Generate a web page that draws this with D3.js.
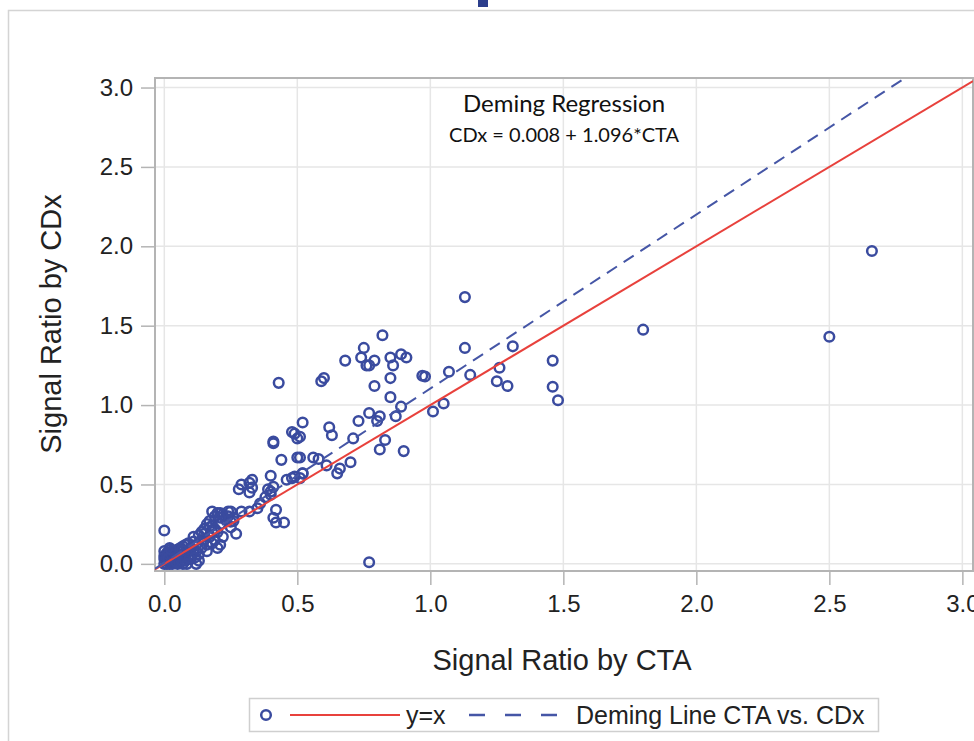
<!DOCTYPE html>
<html>
<head>
<meta charset="utf-8">
<script src="https://cdn.jsdelivr.net/npm/d3@7"></script>
<style>
  body { margin: 0; background: #fff; }
  svg { display: block; }
</style>
</head>
<body>
<svg width="974" height="741"></svg>
<script>
// CTA vs CDx signal ratios
const ctaValues = [
  0.00, 0.01, 0.00, 0.01, 0.02, 0.02, 0.03, 0.03, 0.04, 0.04, 0.05, 0.05, 0.06, 0.00, 0.02, 0.01,
  0.03, 0.06, 0.07, 0.00, 0.02, 0.05, 0.08, 0.08, 0.09, 0.10, 0.07, 0.10, 0.11, 0.12, 0.13, 0.11,
  0.09, 0.14, 0.15, 0.13, 0.14, 0.16, 0.15, 0.17, 0.16, 0.18, 0.17, 0.19, 0.18, 0.20, 0.19, 0.21,
  0.20, 0.22, 0.23, 0.22, 0.24, 0.25, 0.26, 0.21, 0.13, 0.07, 0.16, 0.18, 0.04, 0.06, 0.01, 0.03,
  0.00, 0.12, 0.20, 0.27, 0.25, 0.25, 0.26, 0.18, 0.21, 0.24, 0.29, 0.32, 0.28, 0.32, 0.35, 0.29,
  0.33, 0.32, 0.33, 0.36, 0.39, 0.40, 0.38, 0.42, 0.41, 0.42, 0.45, 0.40, 0.41, 0.40, 0.46, 0.48,
  0.49, 0.51, 0.52, 0.48, 0.49, 0.50, 0.41, 0.41, 0.44, 0.50, 0.43, 0.52, 0.51, 0.51, 0.52, 0.56,
  0.58, 0.61, 0.59, 0.60, 0.62, 0.63, 0.65, 0.66, 0.70, 0.71, 0.73, 0.77, 0.80, 0.81, 0.83, 0.87,
  0.89, 0.90, 0.81, 0.79, 0.85, 0.85, 0.68, 0.74, 0.75, 0.76, 0.77, 0.79, 0.82, 0.85, 0.86, 0.89,
  0.91, 0.97, 0.98, 1.01, 1.05, 1.07, 1.13, 1.13, 1.15, 1.25, 1.26, 1.29, 1.31, 1.46, 1.46, 1.48,
  1.80, 2.50, 2.66, 0.77,
  0.01, 0.02, 0.04, 0.05, 0.06, 0.08, 0.09, 0.11, 0.12, 0.14, 0.15, 0.17, 0.19, 0.21, 0.03, 0.10,
  0.015, 0.035, 0.055, 0.075, 0.095, 0.045, 0.065, 0.085, 0.025, 0.115
];
const cdxValues = [
  0.00, 0.02, 0.05, 0.07, 0.01, 0.04, 0.00, 0.06, 0.02, 0.08, 0.03, 0.00, 0.05, 0.03, 0.07, 0.00,
  0.03, 0.01, 0.04, 0.08, 0.10, 0.09, 0.07, 0.02, 0.05, 0.10, 0.11, 0.03, 0.08, 0.12, 0.06, 0.14,
  0.13, 0.10, 0.15, 0.18, 0.20, 0.12, 0.22, 0.17, 0.25, 0.20, 0.27, 0.30, 0.24, 0.32, 0.15, 0.25,
  0.20, 0.31, 0.28, 0.17, 0.30, 0.33, 0.27, 0.12, 0.02, 0.00, 0.08, 0.13, 0.05, 0.09, 0.04, 0.01,
  0.21, 0.00, 0.10, 0.19, 0.265, 0.23, 0.29, 0.33, 0.32, 0.33, 0.33, 0.33, 0.47, 0.45, 0.35, 0.50,
  0.53, 0.51, 0.48, 0.38, 0.47, 0.435, 0.42, 0.34, 0.29, 0.26, 0.26, 0.555, 0.485, 0.455, 0.53, 0.54,
  0.55, 0.54, 0.57, 0.83, 0.82, 0.79, 0.76, 0.77, 0.655, 0.67, 1.14, 0.89, 0.80, 0.67, 0.57, 0.67,
  0.66, 0.62, 1.15, 1.17, 0.86, 0.81, 0.57, 0.60, 0.64, 0.79, 0.90, 0.95, 0.90, 0.93, 0.78, 0.93,
  0.99, 0.71, 0.72, 1.12, 1.17, 1.05, 1.28, 1.30, 1.36, 1.25, 1.25, 1.28, 1.44, 1.30, 1.25, 1.32,
  1.30, 1.185, 1.18, 0.96, 1.01, 1.21, 1.68, 1.36, 1.19, 1.15, 1.235, 1.12, 1.37, 1.28, 1.115, 1.03,
  1.475, 1.43, 1.97, 0.01,
  0.05, 0.00, 0.06, 0.06, 0.10, 0.12, 0.09, 0.17, 0.08, 0.15, 0.19, 0.23, 0.22, 0.29, 0.08, 0.06,
  0.035, 0.015, 0.075, 0.025, 0.035, 0.01, 0.085, 0.00, 0.09, 0.04
];
const tickValues = [0, 0.5, 1, 1.5, 2, 2.5, 3];
const demingIntercept = 0.008;
const demingSlope = 1.096;
const legendLabels = ["y=x", "Deming Line CTA vs. CDx"];

const points = ctaValues.map((v, i) => ({ cta: v, cdx: cdxValues[i] }));

const blue = "#3a4b9f";
const red = "#e8413c";
const gridColor = "#e6e6e6";
const frameColor = "#b4b4b4";
const sans = "'Liberation Sans', Arial, sans-serif";

const svg = d3.select("svg");

// outer graph border and clipped title fragment
svg.append("rect")
  .attr("x", 8.5).attr("y", 10.5).attr("width", 980).attr("height", 760)
  .attr("fill", "none").attr("stroke", "#d4d4d4").attr("stroke-width", 1.5);
svg.append("rect")
  .attr("x", 478).attr("y", 0).attr("width", 10).attr("height", 7)
  .attr("fill", "#2c3e8c");

const x = d3.scaleLinear().domain([-0.035, 3.04]).range([155, 973]);
const y = d3.scaleLinear().domain([-0.045, 3.06]).range([571, 78]);

const plotLeft = x.range()[0], plotRight = x.range()[1];
const plotTop = y.range()[1], plotBottom = y.range()[0];

// grid
svg.append("g").selectAll("line").data(tickValues).enter().append("line")
  .attr("x1", d => x(d)).attr("x2", d => x(d))
  .attr("y1", plotTop).attr("y2", plotBottom)
  .attr("stroke", gridColor).attr("stroke-width", 1.5);
svg.append("g").selectAll("line").data(tickValues).enter().append("line")
  .attr("x1", plotLeft).attr("x2", plotRight)
  .attr("y1", d => y(d)).attr("y2", d => y(d))
  .attr("stroke", gridColor).attr("stroke-width", 1.5);

// axes
const xAxis = svg.append("g")
  .attr("transform", "translate(0," + plotBottom + ")")
  .call(d3.axisBottom(x).tickValues(tickValues).tickFormat(d3.format(".1f")).tickSizeInner(14).tickSizeOuter(0).tickPadding(10));
const yAxis = svg.append("g")
  .attr("transform", "translate(" + plotLeft + ",0)")
  .call(d3.axisLeft(y).tickValues(tickValues).tickFormat(d3.format(".1f")).tickSizeInner(14).tickSizeOuter(0).tickPadding(8));

[xAxis, yAxis].forEach(g => {
  g.select(".domain").remove();
  g.selectAll("line").attr("stroke", frameColor).attr("stroke-width", 1.5);
  g.selectAll("text")
    .attr("fill", "#222")
    .style("font-family", sans)
    .style("font-size", "24px");
});

// plot frame
svg.append("rect")
  .attr("x", plotLeft).attr("y", plotTop)
  .attr("width", plotRight - plotLeft).attr("height", plotBottom - plotTop)
  .attr("fill", "none").attr("stroke", frameColor).attr("stroke-width", 2);

svg.append("clipPath").attr("id", "plotclip")
  .append("rect")
  .attr("x", plotLeft).attr("y", plotTop)
  .attr("width", plotRight - plotLeft).attr("height", plotBottom - plotTop);

const plot = svg.append("g").attr("clip-path", "url(#plotclip)");

// points
plot.append("g").selectAll("circle").data(points).enter().append("circle")
  .attr("cx", d => x(d.cta))
  .attr("cy", d => y(d.cdx))
  .attr("r", 4.8)
  .attr("fill", "none")
  .attr("stroke", blue)
  .attr("stroke-width", 2.5);

// reference lines
const xDom = x.domain();
plot.append("line")
  .attr("x1", x(xDom[0])).attr("y1", y(xDom[0]))
  .attr("x2", x(xDom[1])).attr("y2", y(xDom[1]))
  .attr("stroke", red).attr("stroke-width", 2);
plot.append("line")
  .attr("x1", x(xDom[0])).attr("y1", y(demingIntercept + demingSlope * xDom[0]))
  .attr("x2", x(xDom[1])).attr("y2", y(demingIntercept + demingSlope * xDom[1]))
  .attr("stroke", "#4556a6").attr("stroke-width", 2)
  .attr("stroke-dasharray", "12,8");

// annotation
svg.append("text")
  .attr("x", 564).attr("y", 112)
  .attr("text-anchor", "middle")
  .style("font-family", "Lato, 'Open Sans', sans-serif")
  .style("font-size", "24px")
  .attr("fill", "#111")
  .text("Deming Regression");
svg.append("text")
  .attr("x", 564).attr("y", 142)
  .attr("text-anchor", "middle")
  .style("font-family", "Lato, 'Open Sans', sans-serif")
  .style("font-size", "20px")
  .attr("fill", "#111")
  .text("CDx = " + demingIntercept.toFixed(3) + " + " + demingSlope.toFixed(3) + "*CTA");

// axis titles
svg.append("text")
  .attr("x", 562).attr("y", 670)
  .attr("text-anchor", "middle")
  .style("font-family", sans)
  .style("font-size", "29px")
  .attr("fill", "#222")
  .text("Signal Ratio by CTA");
svg.append("text")
  .attr("transform", "translate(61,324) rotate(-90)")
  .attr("text-anchor", "middle")
  .style("font-family", sans)
  .style("font-size", "29px")
  .attr("fill", "#222")
  .text("Signal Ratio by CDx");

// legend
const legend = svg.append("g");
legend.append("rect")
  .attr("x", 249.5).attr("y", 698.5).attr("width", 629).attr("height", 33)
  .attr("fill", "#fff").attr("stroke", "#cfcfcf").attr("stroke-width", 1.5);
legend.append("circle")
  .attr("cx", 266).attr("cy", 715).attr("r", 4.8)
  .attr("fill", "none").attr("stroke", blue).attr("stroke-width", 2.5);
legend.append("line")
  .attr("x1", 290).attr("x2", 400).attr("y1", 715).attr("y2", 715)
  .attr("stroke", red).attr("stroke-width", 2);
legend.append("text")
  .attr("x", 406).attr("y", 724)
  .style("font-family", sans)
  .style("font-size", "25px")
  .attr("fill", "#222")
  .text(legendLabels[0]);
legend.append("line")
  .attr("x1", 469).attr("x2", 557).attr("y1", 715).attr("y2", 715)
  .attr("stroke", "#4556a6").attr("stroke-width", 2.5)
  .attr("stroke-dasharray", "16,20");
legend.append("text")
  .attr("x", 576).attr("y", 724)
  .style("font-family", sans)
  .style("font-size", "25px")
  .attr("fill", "#222")
  .text(legendLabels[1]);
</script>
</body>
</html>
